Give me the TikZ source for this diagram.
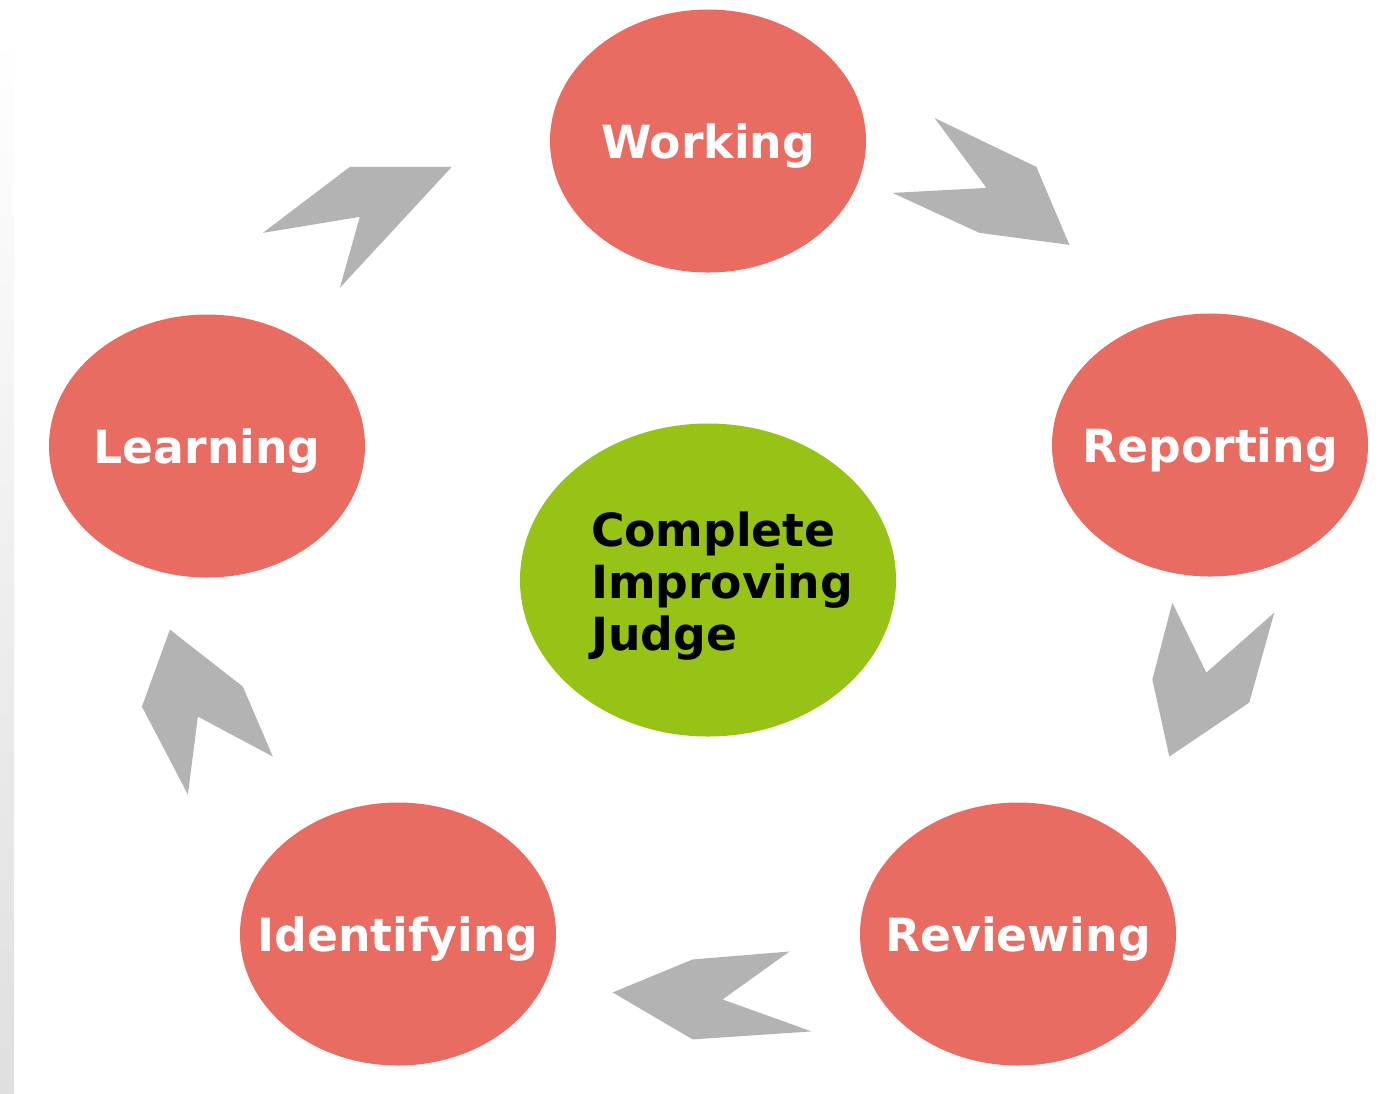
\documentclass[tikz,border=0pt]{standalone}
\usepackage{fontspec}
\setmainfont{DejaVu Sans}
\usetikzlibrary{positioning, shapes.geometric}

\definecolor{stagered}{HTML}{E96C62}
\definecolor{hubgreen}{HTML}{97C317}
\definecolor{chevgray}{HTML}{B3B3B3}

\tikzset{
	stage/.style = {ellipse, fill = stagered, text = white,
		inner xsep = -0.6cm, inner ysep = 0, text depth = 0pt,
		minimum width = 3.16cm, minimum height = 2.63cm,
		font = \fontsize{13}{15}\selectfont\bfseries},
	hub/.style = {ellipse, fill = hubgreen, inner sep = 0,
		minimum width = 3.76cm, minimum height = 3.13cm},
	hubtext/.style = {align = left, text = black, xshift = 0.14cm, yshift = -0.06cm,
		font = \fontsize{13}{14.7}\selectfont\bfseries},
	chevron/.style = {fill = chevgray}
}

\begin{document}
\begin{tikzpicture}[on grid]
	\useasboundingbox (0,0) rectangle (13.94,-10.93);
	%\draw[help lines] (0,0) grid (14, -11);
	\shade[top color = white, middle color = cyan!12, bottom color = gray!25]
		(0,-0.35) rectangle (0.14,-10.93);

	\node (hub) [hub, label = {[hubtext]center:Complete\\Improving\\Judge}]
		at (7.08,-5.80) {};
	\node (working) [stage, above = 4.39 of hub] {Working};
	\node (reporting) [stage, above right = 1.35 and 5.02 of hub] {Reporting};
	\node (reviewing) [stage, below right = 3.54 and 3.10 of hub] {Reviewing};
	\node (identifying) [stage, below left = 3.54 and 3.10 of hub] {Identifying};
	\node (learning) [stage, above left = 1.34 and 5.01 of hub] {Learning};

	\begin{scope}[x = 0.01cm, y = -0.01cm, chevron]
		\fill (935,118) -- (1037,167) -- (1070,245) -- (980,233) -- (893,193)
			-- (987,188) -- cycle;
		\fill (1173,603) -- (1207,673) -- (1275,613) -- (1250,703)
			-- (1170,757) -- (1153,680) -- cycle;
		\fill (790,952) -- (693,960) -- (613,993) -- (693,1040)
			-- (812,1032) -- (723,1000) -- cycle;
		\fill (170,630) -- (243,687) -- (273,757) -- (198,717)
			-- (188,795) -- (142,707) -- cycle;
		\fill (350,167) -- (452,167) -- (340,288) -- (360,217)
			-- (263,233) -- cycle;
	\end{scope}
\end{tikzpicture}
\end{document}
